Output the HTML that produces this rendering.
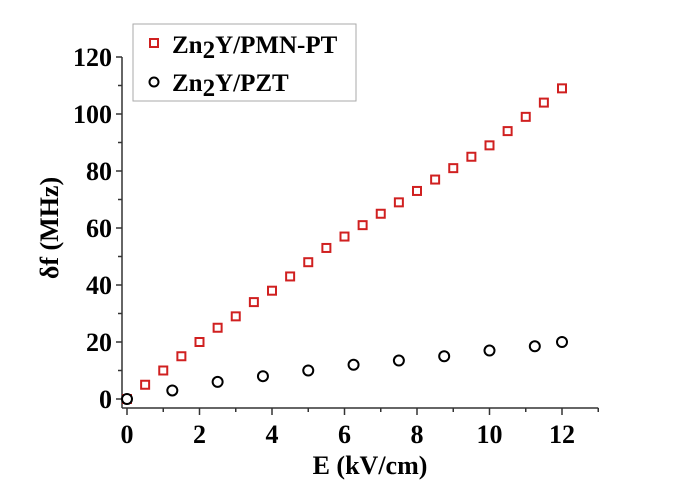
<!DOCTYPE html>
<html><head><meta charset="utf-8"><style>
body{margin:0;background:#fff}
svg{display:block;font-family:"Liberation Serif",serif;font-weight:bold}
</style></head><body>
<svg id="c" width="694" height="487">
<g id="axes"></g><g id="marks"></g>
<g>
<rect x="133" y="24" width="223" height="77" fill="#fff" stroke="#aaa" stroke-width="1"/>
<rect x="150" y="39" width="8" height="8" fill="none" stroke="#d02020" stroke-width="2"/>
<text x="172" y="53" font-size="25">Zn<tspan dy="5">2</tspan><tspan dy="-5">Y/PMN-PT</tspan></text>
<circle cx="154" cy="82" r="4.5" fill="none" stroke="#000" stroke-width="2"/>
<text x="172" y="91" font-size="25">Zn<tspan dy="5">2</tspan><tspan dy="-5">Y/PZT</tspan></text>
</g>
<text x="370" y="474" font-size="26" text-anchor="middle">E (kV/cm)</text>
<text transform="translate(58,228) rotate(-90)" font-size="26" text-anchor="middle">δf (MHz)</text>
</svg>
<script>
const pmnX=[0,0.5,1,1.5,2,2.5,3,3.5,4,4.5,5,5.5,6,6.5,7,7.5,8,8.5,9,9.5,10,10.5,11,11.5,12];
const pmnY=[0,5,10,15,20,25,29,34,38,43,48,53,57,61,65,69,73,77,81,85,89,94,99,104,109];
const pztX=[0,1.25,2.5,3.75,5,6.25,7.5,8.75,10,11.25,12];
const pztY=[0,3,6,8,10,12,13.5,15,17,18.5,20];
const xTicks=[0,2,4,6,8,10,12];
const yTicks=[0,20,40,60,80,100,120];
const NS="http://www.w3.org/2000/svg";
const sx=v=>127+v*36.25, sy=v=>399-v*2.85;
const ax=document.getElementById('axes'), mk=document.getElementById('marks');
function el(t,a,p){const e=document.createElementNS(NS,t);for(const k in a)e.setAttribute(k,a[k]);p.appendChild(e);return e;}
const xa=el('line',{x1:122,y1:408,x2:sx(13),y2:408,stroke:'#333','stroke-width':1.5},ax);


const ya=el('line',{x1:122,y1:408,x2:122,y2:sy(120),stroke:'#333','stroke-width':1.5},ax);


for(let v=0;v<=13;v++){el('line',{x1:sx(v),y1:408,x2:sx(v),y2:v%2?412:415,stroke:'#333','stroke-width':1.5},ax);}
for(let v=0;v<=120;v+=10){el('line',{x1:122,y1:sy(v),x2:v%20?118:116,y2:sy(v),stroke:'#333','stroke-width':1.5},ax);}
xTicks.forEach(v=>{const t=el('text',{x:sx(v),y:443,'font-size':26,'text-anchor':'middle'},ax);t.textContent=v;

});
yTicks.forEach(v=>{const t=el('text',{x:112,y:sy(v)+9,'font-size':26,'text-anchor':'end'},ax);t.textContent=v;

});
pmnX.forEach((x,i)=>{const r=el('rect',{x:sx(x)-4,y:sy(pmnY[i])-4,width:8,height:8,fill:'none',stroke:'#d02020','stroke-width':2},mk);

});
pztX.forEach((x,i)=>{const c=el('circle',{cx:sx(x),cy:sy(pztY[i]),r:5,fill:'#fff',stroke:'#000','stroke-width':2},mk);

});
</script>
</body></html>
